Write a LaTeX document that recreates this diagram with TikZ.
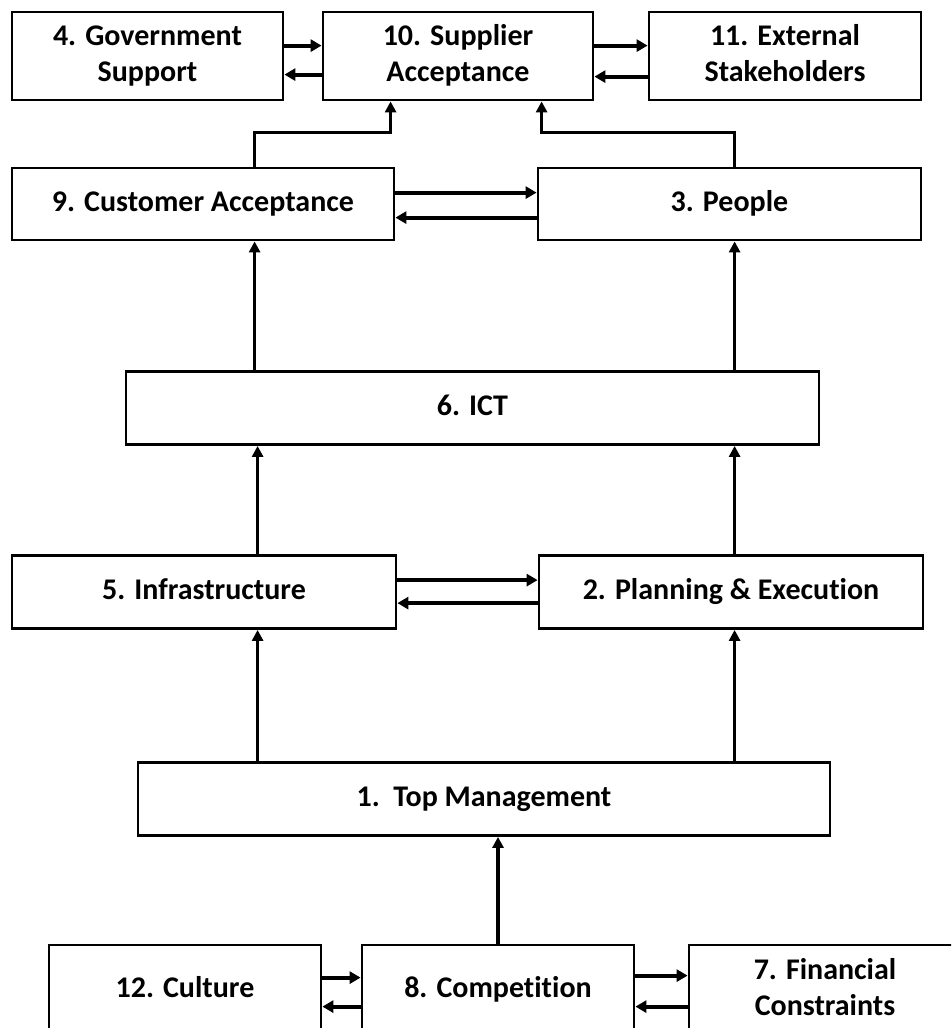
\documentclass[tikz,border=0pt]{standalone}
\usepackage{fontspec}
\setmainfont{Carlito}[Ligatures=NoCommon]
\usetikzlibrary{arrows.meta}
\begin{document}
\begin{tikzpicture}[x=1pt,y=-1pt,
  box/.style={draw, line width=2.8pt, inner sep=0pt, align=center,
    font=\fontsize{30}{36}\selectfont\bfseries, minimum height=72pt},
  tall/.style={minimum height=88pt},
  harr/.style={line width=4pt, -{Triangle[length=11pt,width=12pt]}},
  varr/.style={line width=3.2pt, -{Triangle[length=11pt,width=11pt]}},
  line join=miter]
\clip (0,0) rectangle (951,1028);
\useasboundingbox (0,0) rectangle (951,1028);
% top row
\node[box,tall,minimum width=271pt] (gov) at (147.5,56) {4. Government\strut\\Support\strut};
\node[box,tall,minimum width=270pt] (sup) at (458,56) {10. Supplier\strut\\Acceptance\strut};
\node[box,tall,minimum width=272pt] (ext) at (785,56) {11. External\strut\\Stakeholders\strut};
% second row
\node[box,minimum width=382pt] (cust) at (203,204) {9. Customer Acceptance\strut};
\node[box,minimum width=383pt] (peop) at (729.5,204) {3. People\strut};
% ICT
\node[box,minimum width=693pt,minimum height=73pt] (ict) at (472.5,408) {6. ICT\strut};
% fourth row
\node[box,minimum width=384pt,minimum height=73pt] (infra) at (204,592) {5. Infrastructure\strut};
\node[box,minimum width=384pt,minimum height=73pt] (plan) at (731,592) {2. Planning \& Execution\strut};
% top management
\node[box,minimum width=692pt,minimum height=73pt] (top) at (484,799) {1.\ \ Top Management\strut};
% bottom row
\node[box,minimum width=272pt,minimum height=90pt] (cult) at (185,990) {12. Culture\strut};
\node[box,minimum width=272pt,minimum height=90pt] (comp) at (498,990) {8. Competition\strut};
\node[box,minimum width=272pt,minimum height=90pt] (fin) at (825,990) {7. Financial\strut\\Constraints\strut};

% horizontal arrow pairs
\draw[harr] ([yshift=-35pt]gov.north east) -- ([yshift=-35pt]sup.north west);
\draw[harr] ([yshift=-64pt]sup.north west) -- ([yshift=-64pt]gov.north east);
\draw[harr] ([yshift=-35pt]sup.north east) -- ([yshift=-35pt]ext.north west);
\draw[harr] ([yshift=-66pt]ext.north west) -- ([yshift=-66pt]sup.north east);
\draw[harr] ([yshift=-26pt]cust.north east) -- ([yshift=-26pt]peop.north west);
\draw[harr] ([yshift=-51pt]peop.north west) -- ([yshift=-51pt]cust.north east);
\draw[harr] ([yshift=-26pt]infra.north east) -- ([yshift=-26pt]plan.north west);
\draw[harr] ([yshift=-49pt]plan.north west) -- ([yshift=-49pt]infra.north east);
\draw[harr] ([yshift=-34pt]cult.north east) -- ([yshift=-34pt]comp.north west);
\draw[harr] ([yshift=-63pt]comp.north west) -- ([yshift=-63pt]cult.north east);
\draw[harr] ([yshift=-32pt]comp.north east) -- ([yshift=-32pt]fin.north west);
\draw[harr] ([yshift=-63pt]fin.north west) -- ([yshift=-63pt]comp.north east);

% anchor points for vertical connectors
\coordinate (cx) at ([xshift=244pt]cust.south west);
\coordinate (px) at ([xshift=198pt]peop.south west);
\coordinate (ix) at ([xshift=247pt]infra.south west);
\coordinate (qx) at ([xshift=197pt]plan.south west);

% elbow connectors to supplier acceptance
\coordinate (cbend) at ([xshift=244pt,yshift=34pt]cust.north west);
\coordinate (pbend) at ([xshift=198pt,yshift=34pt]peop.north west);
\draw[varr] ([xshift=244pt]cust.north west) -- (cbend) -| ([xshift=69pt]sup.south west);
\draw[varr] ([xshift=198pt]peop.north west) -- (pbend) -| ([xshift=220pt]sup.south west);

% vertical arrows
\draw[varr] (ict.north -| cx) -- (cx);
\draw[varr] (ict.north -| px) -- (px);
\draw[varr] ([xshift=247pt]infra.north west) -- (ict.south -| ix);
\draw[varr] ([xshift=197pt]plan.north west) -- (ict.south -| qx);
\draw[varr] (top.north -| ix) -- (ix);
\draw[varr] (top.north -| qx) -- (qx);
\draw[varr] (comp.north) -- (top.south -| comp.north);
\end{tikzpicture}
\end{document}
